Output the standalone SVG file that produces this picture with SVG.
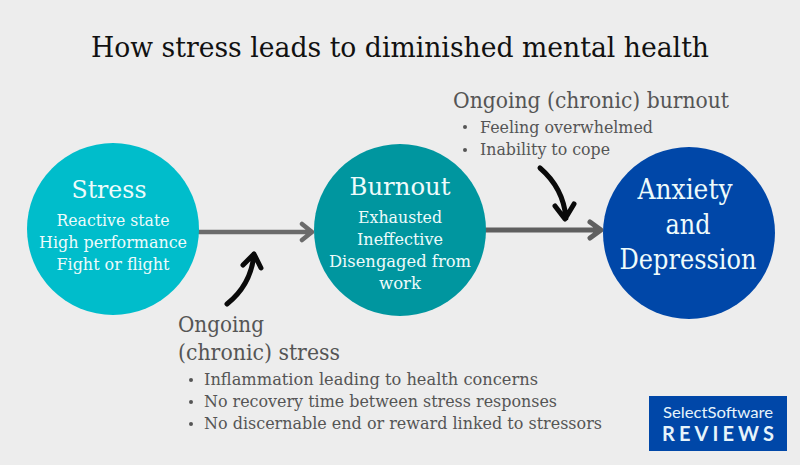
<svg xmlns="http://www.w3.org/2000/svg" width="800" height="465" viewBox="0 0 800 465">
<style>
text{font-family:"DejaVu Serif","Liberation Serif",serif}
.w{fill:#eefbfb;text-anchor:middle}
.d{fill:#555}
.s{font-size:16px}
.a{fill:none;stroke-linecap:round;stroke-linejoin:round}
.g{stroke:#6b6b6b}
.k{stroke:#0a0a0a;stroke-width:5}
</style>
<rect width="800" height="465" fill="#ededed"/>
<text x="400" y="57" font-size="27" fill="#111" text-anchor="middle" textLength="618" lengthAdjust="spacingAndGlyphs">How stress leads to diminished mental health</text>
<g id="connectors">
<path class="a g" stroke-width="4.5" d="M199 232H311M302 224L312 232L302 240"/>
<path class="a g" stroke-width="5" style="stroke:#5f5f5f" d="M486 230H600M590 222L601 230L590 238"/>
<path class="a k" d="M227 304C242 292 252 276 254 254M243 265L254 254L261 268"/>
<path class="a k" d="M540 168C554 180 564 196 566 218M555 206L565 219L574 204"/>
</g>
<g id="stress">
<circle cx="113" cy="229" r="86" fill="#00bdcb"/>
<text class="w" x="109" y="198" font-size="25" textLength="75" lengthAdjust="spacingAndGlyphs">Stress</text>
<text class="w s" x="113" y="226" textLength="113" lengthAdjust="spacingAndGlyphs">Reactive state</text>
<text class="w s" x="113" y="248" textLength="148" lengthAdjust="spacingAndGlyphs">High performance</text>
<text class="w s" x="113" y="270" textLength="113" lengthAdjust="spacingAndGlyphs">Fight or flight</text>
</g>
<g id="burnout">
<circle cx="400" cy="230" r="86" fill="#00969f"/>
<text class="w" x="400" y="195" font-size="25" textLength="101" lengthAdjust="spacingAndGlyphs">Burnout</text>
<text class="w s" x="400" y="223" textLength="84" lengthAdjust="spacingAndGlyphs">Exhausted</text>
<text class="w s" x="400" y="245" textLength="86" lengthAdjust="spacingAndGlyphs">Ineffective</text>
<text class="w s" x="400" y="267" textLength="142" lengthAdjust="spacingAndGlyphs">Disengaged from</text>
<text class="w s" x="400" y="289" textLength="42" lengthAdjust="spacingAndGlyphs">work</text>
</g>
<g id="anxiety">
<circle cx="689" cy="233" r="86" fill="#0047a8"/>
<text class="w" x="685" y="199" font-size="27" textLength="95" lengthAdjust="spacingAndGlyphs">Anxiety</text>
<text class="w" x="688" y="234" font-size="27" textLength="45" lengthAdjust="spacingAndGlyphs">and</text>
<text class="w" x="688" y="269" font-size="27" textLength="137" lengthAdjust="spacingAndGlyphs">Depression</text>
</g>
<g id="chronic-stress" class="d">
<text x="178" y="332" font-size="22" textLength="86" lengthAdjust="spacingAndGlyphs">Ongoing</text>
<text x="178" y="360" font-size="22" textLength="162" lengthAdjust="spacingAndGlyphs">(chronic) stress</text>
<circle cx="191" cy="380" r="2"/><circle cx="191" cy="402" r="2"/><circle cx="191" cy="424" r="2"/>
<text class="s" x="204" y="385" textLength="334" lengthAdjust="spacingAndGlyphs">Inflammation leading to health concerns</text>
<text class="s" x="204" y="407" textLength="353" lengthAdjust="spacingAndGlyphs">No recovery time between stress responses</text>
<text class="s" x="204" y="429" textLength="398" lengthAdjust="spacingAndGlyphs">No discernable end or reward linked to stressors</text>
</g>
<g id="chronic-burnout" class="d">
<text x="453" y="108" font-size="22" textLength="276" lengthAdjust="spacingAndGlyphs">Ongoing (chronic) burnout</text>
<circle cx="465" cy="127" r="2"/><circle cx="465" cy="150" r="2"/>
<text class="s" x="480" y="133" textLength="173" lengthAdjust="spacingAndGlyphs">Feeling overwhelmed</text>
<text class="s" x="480" y="155" textLength="130" lengthAdjust="spacingAndGlyphs">Inability to cope</text>
</g>
<g id="logo">
<rect x="649" y="396" width="138" height="55" fill="#0047a8"/>
<text x="718" y="418" font-size="15" font-weight="400" fill="#e6f4fb" text-anchor="middle" style="font-family:'Lato',sans-serif" textLength="110" lengthAdjust="spacingAndGlyphs">SelectSoftware</text>
<text x="718" y="441" font-size="20" font-weight="700" fill="#e6f4fb" text-anchor="middle" style="font-family:'Lato',sans-serif" textLength="112">REVIEWS</text>
</g>
</svg>
